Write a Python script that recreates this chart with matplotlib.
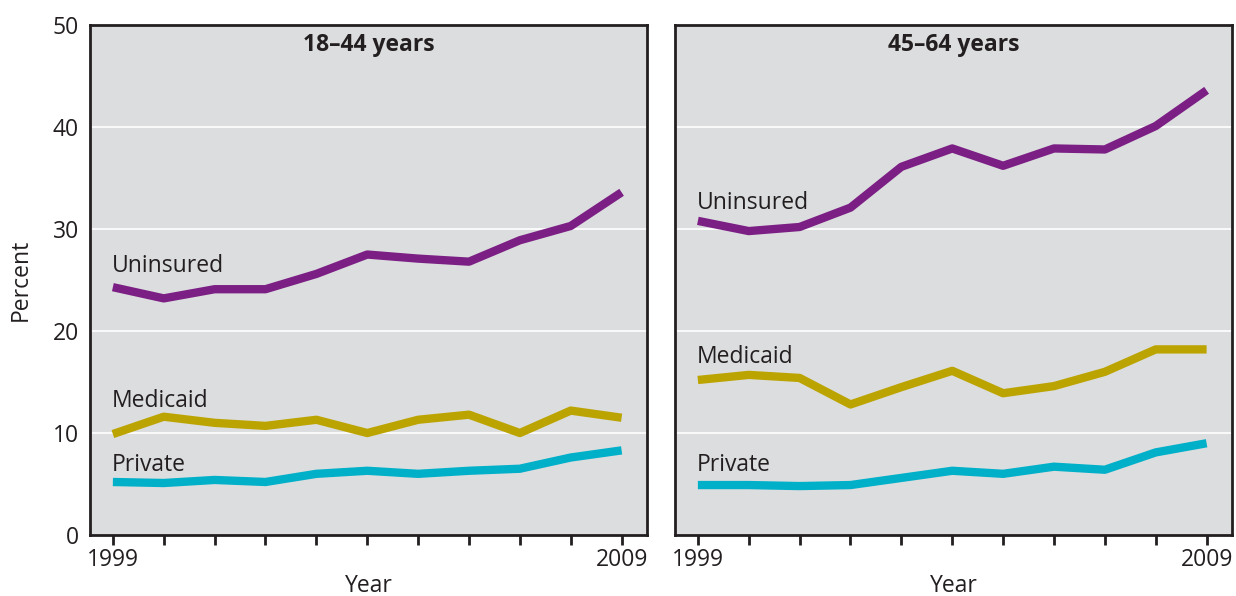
import matplotlib.pyplot as plt
import numpy as np

plt.rcParams['font.family'] = ['Open Sans', 'DejaVu Sans']

years = np.arange(1999, 2010)

panel_titles = ['18\u201344 years', '45\u201364 years']

uninsured_18_44 = [24.3, 23.2, 24.1, 24.1, 25.6, 27.5, 27.1, 26.8, 28.9, 30.3, 33.6]
medicaid_18_44 = [9.9, 11.6, 11.0, 10.7, 11.3, 10.0, 11.3, 11.8, 10.0, 12.2, 11.5]
private_18_44 = [5.2, 5.1, 5.4, 5.2, 6.0, 6.3, 6.0, 6.3, 6.5, 7.6, 8.3]

uninsured_45_64 = [30.8, 29.8, 30.2, 32.1, 36.1, 37.9, 36.2, 37.9, 37.8, 40.1, 43.6]
medicaid_45_64 = [15.2, 15.7, 15.4, 12.8, 14.5, 16.1, 13.9, 14.6, 16.0, 18.2, 18.2]
private_45_64 = [4.9, 4.9, 4.8, 4.9, 5.6, 6.3, 6.0, 6.7, 6.4, 8.1, 9.0]

series_names = ['Uninsured', 'Medicaid', 'Private']
colors = ['#7b1f84', '#bca400', '#00b0c9']

# label y positions (data units) for each panel
label_y = [[26.4, 13.1, 6.9], [32.6, 17.5, 6.9]]

panels = [
    [uninsured_18_44, medicaid_18_44, private_18_44],
    [uninsured_45_64, medicaid_45_64, private_45_64],
]

fig = plt.figure(figsize=(12.36, 5.96), dpi=100)
ax_pos = [[0.0728, 0.1023, 0.4507, 0.8557], [0.5461, 0.1023, 0.4507, 0.8557]]

dark = '#231f20'
fs = 16.5
for i, data in enumerate(panels):
    ax = fig.add_axes(ax_pos[i])
    ax.set_facecolor('#dcdddf')
    for y in [10, 20, 30, 40]:
        ax.axhline(y, color='white', lw=1.2, zorder=1)
    for vals, name, c, ly in zip(data, series_names, colors, label_y[i]):
        ax.plot(years, vals, color=c, lw=6, solid_capstyle='butt', zorder=3)
        ax.text(1998.98, ly, name, fontsize=fs, color=dark, va='center', ha='left')
    ax.set_xlim(1998.55, 2009.5)
    ax.set_ylim(0, 50)
    ax.set_xticks(years)
    ax.set_xticklabels(['1999'] + [''] * 9 + ['2009'], fontsize=fs, color=dark)
    ax.tick_params(axis='x', direction='out', length=7, width=2, color=dark, pad=2)
    ax.set_yticks([0, 10, 20, 30, 40, 50])
    if i == 0:
        ax.set_yticklabels(['0', '10', '20', '30', '40', '50'], fontsize=fs, color=dark)
        ax.tick_params(axis='y', length=0, pad=8)
        ax.set_ylabel('Percent', fontsize=fs, color=dark, labelpad=14)
    else:
        ax.set_yticklabels([])
        ax.tick_params(axis='y', length=0)
    for s in ax.spines.values():
        s.set_color(dark)
        s.set_linewidth(2)
    ax.set_xlabel('Year', fontsize=fs, color=dark, labelpad=2)
    ax.text(0.5, 0.96, panel_titles[i], transform=ax.transAxes, ha='center', va='center',
            fontsize=fs, fontweight='bold', color=dark)

fig.savefig('out.png', dpi=100)
